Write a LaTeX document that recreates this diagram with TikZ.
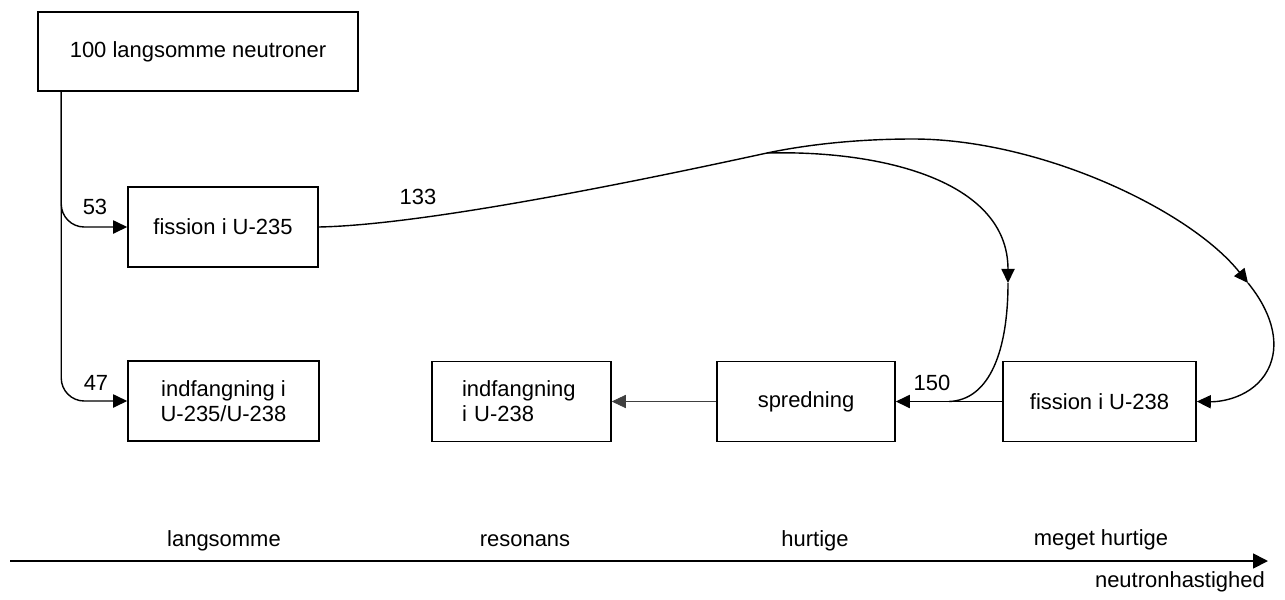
\documentclass[tikz,border=0pt]{standalone}
\usepackage{fontspec}
\setmainfont{Liberation Sans}
\usetikzlibrary{arrows.meta,calc}

\begin{document}
\begin{tikzpicture}[x=0.02cm,y=-0.02cm,
        font=\fontsize{12.5}{14.2}\selectfont,
        box/.style={draw,line width=0.9pt,minimum height=1.6cm,inner sep=0pt,align=center},
        flow/.style={line width=0.8pt,-{Triangle[length=8pt,width=7.5pt]}},
        wire/.style={line width=0.8pt}]
        \useasboundingbox (0,0) rectangle (1285,599);

        % 1. Boxes
        \node (slow) at (198,51.5) [box,minimum width=6.4cm,minimum height=1.58cm] {100 langsomme neutroner};
        \node (fis235) at (223,227) [box,minimum width=3.8cm] {fission i U-235};
        \node (cap235) at (223.5,401) [box,minimum width=3.82cm] {indfangning i\\U-235/U-238};
        \node (cap238) at (521.5,401.5) [box,text width=2.38cm,inner xsep=0.6cm,align=left] {indfangning\\i U-238};
        \node (spread) at (806,401.5) [box,minimum width=3.56cm] {spredning};
        \node (fis238) at (1099.5,401.5) [box,minimum width=3.86cm] {fission i U-238};

        % 2. Slow neutrons split up
        \coordinate (trunk) at ($(slow.south west)+(24,0)$);
        \draw[flow,rounded corners=0.46cm] (trunk) |- (fis235.west);
        \draw[flow,rounded corners=0.46cm] (trunk) |- (cap235.west);
        \node (n53) at (95,207) {53};
        \node (n47) at (96,383) {47};

        % 3. Fast neutrons from fission in U-235
        \coordinate (fork) at (767,153);
        \coordinate (tipA) at (1248,283);
        \coordinate (tipB) at (1008,283);
        \draw[wire] (fis235.east) .. controls (420,225) and (620,185) .. (fork);
        \node (n133) at (418,197) {133};

        % upper branch -> fission i U-238
        \draw[flow] (fork) .. controls (810,144) and (860,139) .. (913,139)
            .. controls (1040,139) and (1190,210) .. (tipA);
        \draw[flow] (tipA) .. controls (1270,310) and (1280,340) .. (1270,365)
            .. controls (1258,395) and (1225,402) .. (fis238.east);

        % lower branch -> spredning
        \draw[flow] (fork) .. controls (880,150) and (1008,180) .. (tipB);
        \path (fis238.west) -- (spread.east) coordinate[pos=0.5] (join);
        \draw[wire] (tipB) .. controls (1008,350) and (990,400) .. (join);

        % 4. Bottom row
        \draw[flow] (fis238.west) -- (spread.east);
        \node (n150) at (932,383) {150};
        \draw[flow,line width=0.4pt,black!75] (spread.west) -- (cap238.east);

        % 5. Speed axis
        \coordinate (axisL) at (10,561);
        \coordinate (axisR) at (1268,561);
        \draw[line width=1pt,-{Triangle[length=8.5pt,width=8.5pt]}] (axisL) -- (axisR);
        \node (slowband) at (224,541) {langsomme};
        \node (resband) at (525,541) {resonans};
        \node (fastband) at (815,541) {hurtige};
        \node (vfastband) at (1101,540) {meget hurtige};
        \node (speed) [anchor=east] at (1271,582) {neutronhastighed};
\end{tikzpicture}
\end{document}
